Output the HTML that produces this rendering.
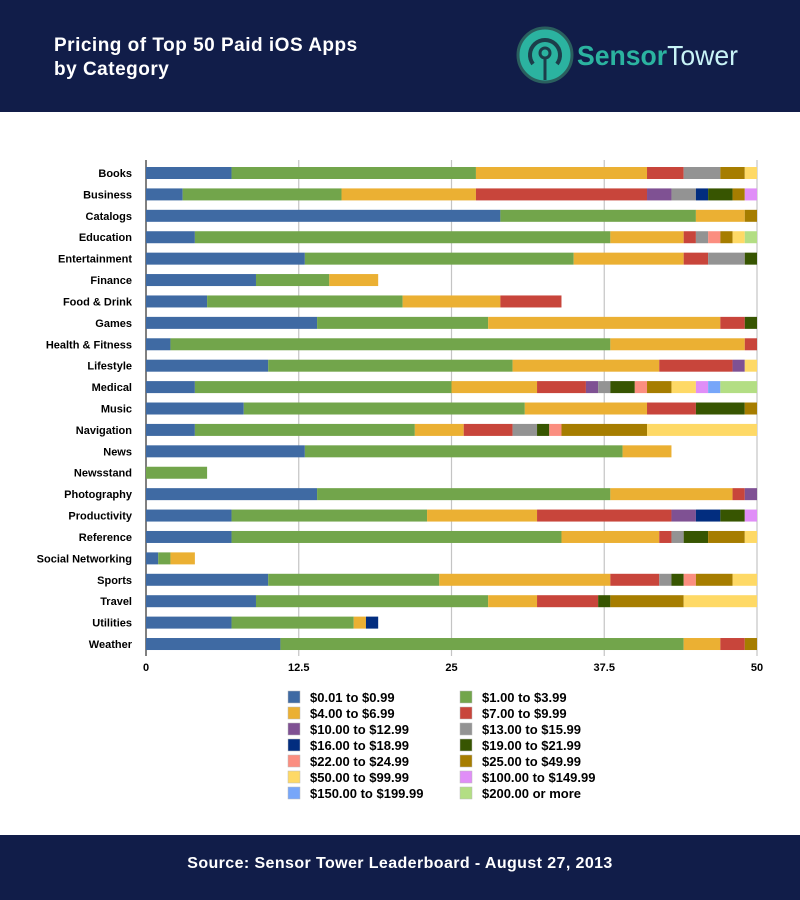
<!DOCTYPE html>
<html><head><meta charset="utf-8">
<style>
body{margin:0;width:800px;height:900px;background:#fff;font-family:"Liberation Sans",Arial,sans-serif;overflow:hidden;position:relative}
#hdr{position:absolute;left:0;top:0;width:800px;height:112px;background:#111d49}
#ttl{position:absolute;left:54px;top:34px;color:#fff;font-weight:bold;font-size:19px;line-height:24px;letter-spacing:0.5px}
#ftr{position:absolute;left:0;top:835px;width:800px;height:65px;background:#111d49;color:#fff;font-weight:bold;font-size:16px;text-align:center;line-height:58px;letter-spacing:0.4px}
svg{position:absolute;left:0;top:0}
</style></head><body>
<div id="hdr">
<div id="ttl">Pricing of Top 50 Paid iOS Apps<br>by Category</div>
<svg width="800" height="112">
<circle cx="545" cy="55" r="27" fill="#2bb3a0" stroke="#2a5f5e" stroke-width="3"/>
<path d="M533,64 A15,15 0 1 1 557,64" fill="none" stroke="#1c3d4a" stroke-width="4"/>
<circle cx="545" cy="53" r="5" fill="none" stroke="#1c3d4a" stroke-width="3"/>
<line x1="545" y1="58" x2="545" y2="80" stroke="#1c3d4a" stroke-width="3"/>
<text x="577" y="65" font-size="28" textLength="161" lengthAdjust="spacingAndGlyphs" font-family="Liberation Sans, sans-serif"><tspan fill="#2bb3a0" font-weight="bold">Sensor</tspan><tspan fill="#c8f3f6">Tower</tspan></text>
</svg>
</div>
<svg id="chart" width="800" height="835"></svg>
<div id="ftr">Source: Sensor Tower Leaderboard - August 27, 2013</div>
<script>
const categories=["Books","Business","Catalogs","Education","Entertainment","Finance","Food & Drink","Games","Health & Fitness","Lifestyle","Medical","Music","Navigation","News","Newsstand","Photography","Productivity","Reference","Social Networking","Sports","Travel","Utilities","Weather"];
const seriesNames=["$0.01 to $0.99","$1.00 to $3.99","$4.00 to $6.99","$7.00 to $9.99","$10.00 to $12.99","$13.00 to $15.99","$16.00 to $18.99","$19.00 to $21.99","$22.00 to $24.99","$25.00 to $49.99","$50.00 to $99.99","$100.00 to $149.99","$150.00 to $199.99","$200.00 or more"];
const colors=["#3f6aa3","#72a54b","#ebb033","#c8453b","#7f5193","#939393","#022d7f","#375501","#fb8e80","#a67d00","#fed966","#e08ef7","#77a6f9","#b3de84"];
// values per category, in series order
const s001=[7,3,29,4,13,9,5,14,2,10,4,8,4,13,0,14,7,7,1,10,9,7,11];
const s100=[20,13,16,34,22,6,16,14,36,20,21,23,18,26,5,24,16,27,1,14,19,10,33];
const s400=[14,11,4,6,9,4,8,19,11,12,7,10,4,4,0,10,9,8,2,14,4,1,3];
const s700=[3,14,0,1,2,0,5,2,1,6,4,4,4,0,0,1,11,1,0,4,5,0,2];
const s1000=[0,2,0,0,0,0,0,0,0,1,1,0,0,0,0,1,2,0,0,0,0,0,0];
const s1300=[3,2,0,1,3,0,0,0,0,0,1,0,2,0,0,0,0,1,0,1,0,0,0];
const s1600=[0,1,0,0,0,0,0,0,0,0,0,0,0,0,0,0,2,0,0,0,0,1,0];
const s1900=[0,2,0,0,1,0,0,1,0,0,2,4,1,0,0,0,2,2,0,1,1,0,0];
const s2200=[0,0,0,1,0,0,0,0,0,0,1,0,1,0,0,0,0,0,0,1,0,0,0];
const s2500=[2,1,1,1,0,0,0,0,0,0,2,1,7,0,0,0,0,3,0,3,6,0,1];
const s5000=[1,0,0,1,0,0,0,0,0,1,2,0,9,0,0,0,0,1,0,2,6,0,0];
const s10000=[0,1,0,0,0,0,0,0,0,0,1,0,0,0,0,0,1,0,0,0,0,0,0];
const s15000=[0,0,0,0,0,0,0,0,0,0,1,0,0,0,0,0,0,0,0,0,0,0,0];
const s20000=[0,0,0,1,0,0,0,0,0,0,3,0,0,0,0,0,0,0,0,0,0,0,0];
const tickValues=[0,12.5,25,37.5,50];
const tickLabels=["0","12.5","25","37.5","50"];

const series=[s001,s100,s400,s700,s1000,s1300,s1600,s1900,s2200,s2500,s5000,s10000,s15000,s20000];
const NS="http://www.w3.org/2000/svg";
const svg=document.getElementById('chart');
const X0=146,X1=757,Y0=173,STEP=21.41,BH=12;
const xs=v=>X0+(v/50)*(X1-X0);
const ys=i=>Y0+i*STEP;
function mk(t,a){const e=document.createElementNS(NS,t);for(const k in a)e.setAttribute(k,a[k]);return e;}
tickValues.forEach((v,i)=>{
 if(i>0){const g=mk('line',{x1:xs(v),x2:xs(v),y1:160,y2:656,stroke:'#c4c4c4','stroke-width':1.2});
 
 svg.appendChild(g);}
 const t=mk('text',{x:xs(v),y:671,'text-anchor':'middle','font-size':11,'font-weight':'bold',fill:'#000'});
 t.textContent=tickLabels[i];
 
 svg.appendChild(t);
});
const ax=mk('line',{x1:X0,x2:X0,y1:160,y2:656,stroke:'#000','stroke-width':1});

svg.appendChild(ax);
categories.forEach((c,i)=>{
 const y=ys(i);
 const t=mk('text',{x:132,y:y+4,'text-anchor':'end','font-size':11,'font-weight':'bold',fill:'#000'});
 t.textContent=c;
 
 svg.appendChild(t);
 let acc=0;
 series.forEach((s,j)=>{
  const v=s[i]; if(!v)return;
  const r=mk('rect',{x:xs(acc),y:y-BH/2,width:xs(acc+v)-xs(acc),height:BH,fill:colors[j]});
  
  svg.appendChild(r);
  acc+=v;
 });
});
seriesNames.forEach((n,j)=>{
 const col=j%2,row=Math.floor(j/2);
 const bx=col?460:288, cy=697+row*16;
 const r=mk('rect',{x:bx,y:cy-6,width:12,height:12,fill:colors[j],stroke:'#bbb','stroke-width':0.5});
 
 svg.appendChild(r);
 const t=mk('text',{x:bx+22,y:cy+5,'font-size':13,'font-weight':'bold',fill:'#000'});
 t.textContent=n;
 
 svg.appendChild(t);
});
</script>
</body></html>
